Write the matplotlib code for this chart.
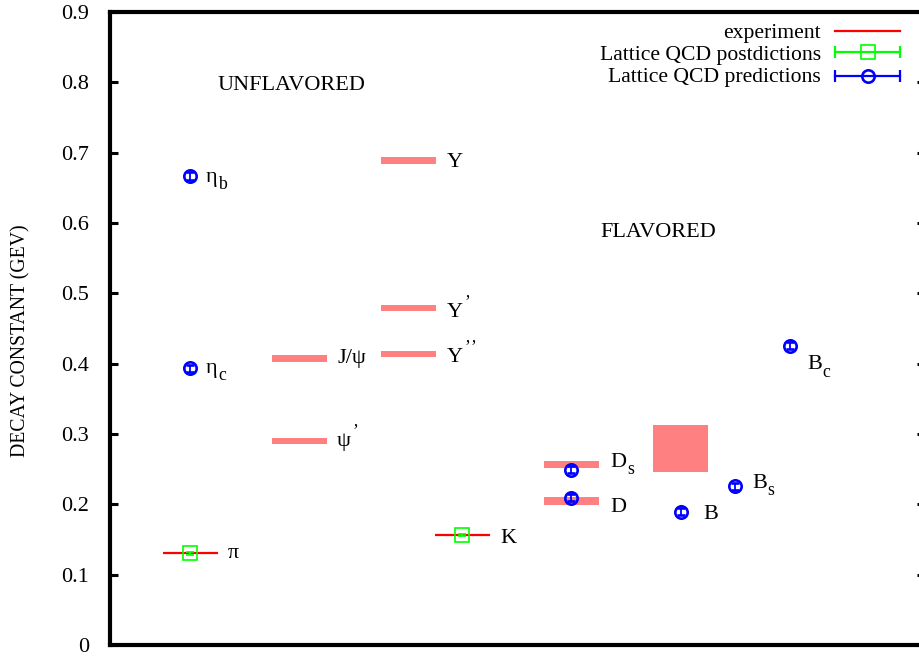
import numpy as np
import matplotlib
matplotlib.use("Agg")
import matplotlib.pyplot as plt
from matplotlib.lines import Line2D

plt.rcParams['font.family'] = ['Liberation Serif', 'DejaVu Serif']

# ---- data (GeV) ----
# experimental values with uncertainty, drawn as bands
band_x   = [1.895, 1.895, 2.985, 2.985, 2.985, 4.61, 4.61, 5.705]
band_val = [0.4076, 0.2900, 0.6886, 0.4794, 0.4140, 0.2566, 0.2047, 0.2797]
band_err = [0.0047, 0.0045, 0.0047, 0.0040, 0.0040, 0.0050, 0.0057, 0.0331]
band_width = 0.55

# precisely measured experimental values (pi, K), drawn as thin lines
exp_x   = [0.80, 3.525]
exp_val = [0.1303, 0.1564]

# lattice QCD postdictions (pi, K)
post_x   = [0.80, 3.52]
post_val = [0.1303, 0.1564]
post_err = [0.002, 0.002]

# lattice QCD predictions (eta_b, eta_c, D_s, D, B, B_s, B_c)
pred_x   = [0.795, 0.80, 4.61, 4.61, 5.71, 6.25, 6.80]
pred_val = [0.6673, 0.3934, 0.2490, 0.2095, 0.1895, 0.2256, 0.4256]
pred_err = [0.0055, 0.0050, 0.0050, 0.0050, 0.0050, 0.0050, 0.0050]

# particle names: (base, subscript, number of primes) and label anchors (left, baseline)
label_base   = ["η", "η", "π", "J/ψ", "ψ", "Y", "Y", "Y", "K", "D", "D", "B", "B", "B"]
label_sub    = ["b", "c", "", "", "", "", "", "", "", "s", "", "", "s", "c"]
label_primes = [0, 0, 0, 0, 1, 0, 1, 2, 0, 0, 0, 0, 0, 0]
label_x = [0.96, 0.96, 1.18, 2.27, 2.27, 3.37, 3.37, 3.37, 3.90, 5.00, 5.00, 5.93, 6.42, 6.97]
label_y = [0.659, 0.387, 0.124, 0.401, 0.283, 0.680, 0.467, 0.402, 0.145, 0.253, 0.189, 0.179, 0.223, 0.392]

yticks = [0.0, 0.1, 0.2, 0.3, 0.4, 0.5, 0.6, 0.7, 0.8, 0.9]
ytick_labels = ["0", "0.1", "0.2", "0.3", "0.4", "0.5", "0.6", "0.7", "0.8", "0.9"]

RED = "#ff0000"
PINK = "#ff8080"
GREEN = "#00ff00"
BLUE = "#0000ff"
FS = 16

fig = plt.figure(figsize=(9.2, 6.56), dpi=100)
ax = fig.add_axes([110 / 920, 11 / 656, 815 / 920, 633 / 656])
ax.set_xlim(0, 8.15)
ax.set_ylim(0, 0.9)
renderer = fig.canvas.get_renderer()

# experimental bands
ax.bar(band_x, [2 * e for e in band_err], width=band_width,
       bottom=[v - e for v, e in zip(band_val, band_err)],
       color=PINK, linewidth=0, zorder=2)

# experimental lines
for x, v in zip(exp_x, exp_val):
    ax.plot([x - band_width / 2, x + band_width / 2], [v, v],
            color=RED, lw=1.6, zorder=3, solid_capstyle='butt')
# lattice postdictions
ax.errorbar(post_x, post_val, yerr=post_err, fmt='s', mfc='none', mec=GREEN,
            ms=9.6, mew=1.2, ecolor=GREEN, elinewidth=1.5, capsize=3,
            capthick=1.5, zorder=4)
# lattice predictions
ax.errorbar(pred_x, pred_val, yerr=pred_err, fmt='o', mfc='none', mec=BLUE,
            ms=8.9, mew=1.9, ecolor=BLUE, elinewidth=1.3, capsize=2.8,
            capthick=1.3, zorder=5)


def particle_label(x, y, base, sub, primes):
    t = ax.text(x, y, base, fontsize=FS, ha='left', va='baseline', zorder=6)
    w = t.get_window_extent(renderer).width * 72 / fig.dpi
    if sub:
        ax.annotate(sub, xy=(x, y), xytext=(w + 0.6, -5.2),
                    textcoords='offset points', fontsize=FS * 0.8,
                    ha='left', va='baseline', zorder=6)
    for k in range(primes):
        ax.annotate("’", xy=(x, y), xytext=(w + 0.8 + 4.8 * k, 7.0),
                    textcoords='offset points', fontsize=FS * 0.8,
                    ha='left', va='baseline', zorder=6)


for args in zip(label_x, label_y, label_base, label_sub, label_primes):
    particle_label(*args)

ax.text(1.07, 0.789, "UNFLAVORED", fontsize=FS, ha='left', va='baseline')
ax.text(4.90, 0.580, "FLAVORED", fontsize=FS, ha='left', va='baseline')

# axes styling
ax.set_xticks([])
ax.set_yticks(yticks)
ax.set_yticklabels(ytick_labels)
ax.tick_params(axis='y', direction='in', length=6, width=2.2,
               left=True, right=True, labelsize=16, pad=15)
for s in ax.spines.values():
    s.set_linewidth(3)
ax.set_ylabel("DECAY CONSTANT (GEV)", fontsize=14.2)
ax.yaxis.set_label_coords(-0.098, 0.480)

# key, gnuplot style: text right-aligned, sample to its right
tr = ax.transAxes
def fx(px):
    return (px - 110) / 815
def fy(py):
    return (645 - py) / 633

key_text = ["experiment", "Lattice QCD postdictions", "Lattice QCD predictions"]
key_base = [38.3, 60.0, 81.7]
key_line = [30.7, 52.3, 76.0]
x0, x1, xm = fx(835), fx(900), fx(868)
for t, yb in zip(key_text, key_base):
    ax.text(fx(821), fy(yb), t, fontsize=15.6, ha='right', va='baseline',
            transform=tr)
ax.add_line(Line2D([x0, x1], [fy(key_line[0])] * 2, color=RED, lw=1.6,
                   transform=tr))
for yl, col, mk, ms, mew in [(key_line[1], GREEN, 's', 9.6, 1.2),
                             (key_line[2], BLUE, 'o', 8.9, 1.9)]:
    ax.add_line(Line2D([x0, x1], [fy(yl)] * 2, color=col, lw=1.6,
                       transform=tr))
    ax.add_line(Line2D([x0, x1], [fy(yl)] * 2, color=col, lw=0, marker='|',
                       ms=8.6, mew=1.6, transform=tr))
    ax.add_line(Line2D([xm], [fy(yl)], color=col, lw=0, marker=mk, ms=ms,
                       mew=mew, mfc='none', mec=col, transform=tr))

fig.savefig("out.png", dpi=100)
